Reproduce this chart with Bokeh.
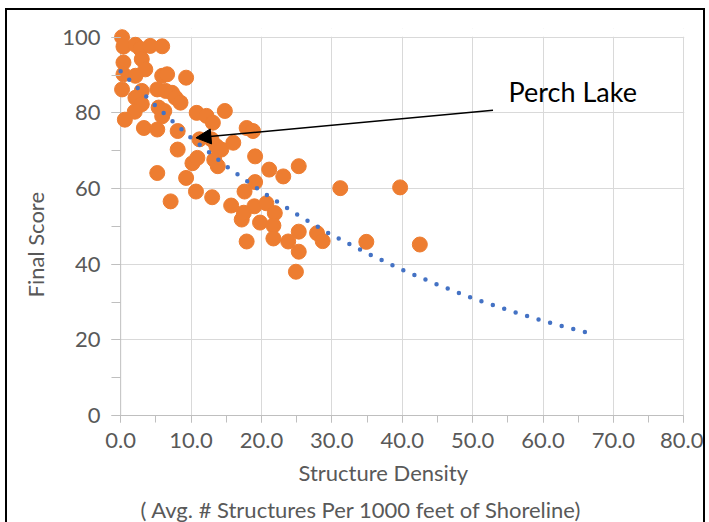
from bokeh.plotting import figure
from bokeh.models import (Range1d, SingleIntervalTicker, NumeralTickFormatter, Arrow, NormalHead,
                          Label, Title, BoxAnnotation, Span)
from bokeh.embed import file_html
from bokeh.resources import INLINE

# Structure density (avg # structures per 1000 ft of shoreline) vs final score
density = [0.2, 0.4, 2.1, 2.8, 4.2, 5.9, 0.4, 3.0, 3.5, 0.4, 2.1, 5.9, 6.6, 9.3,
           0.2, 3.0, 5.2, 6.4, 7.3, 7.8, 2.1, 3.0, 8.5, 2.0, 0.6, 5.4, 6.2, 3.3,
           5.2, 5.9, 8.1, 8.1, 5.2, 9.3, 10.7, 7.1, 10.2, 10.9, 11.2, 10.8, 12.2,
           14.8, 13.1, 12.9, 13.6, 14.3, 16.0, 17.9, 18.8, 19.1, 13.3, 13.8, 21.1,
           23.1, 19.1, 13.0, 15.7, 17.6, 19.0, 17.2, 17.5, 20.7, 21.9, 19.8, 21.7,
           21.7, 17.9, 23.8, 25.3, 25.3, 24.9, 25.3, 27.9, 28.7, 31.2, 34.9, 39.7, 42.5]
score = [100.0, 97.5, 98.0, 96.9, 97.7, 97.6, 93.3, 94.2, 91.5, 90.2, 89.8, 89.8, 90.2, 89.3,
         86.2, 85.8, 86.2, 85.8, 85.3, 84.0, 84.0, 82.3, 82.7, 80.3, 78.2, 81.4, 80.5, 76.0,
         75.6, 79.1, 75.2, 70.3, 64.1, 62.8, 59.2, 56.6, 66.7, 68.1, 73.0, 80.0, 79.2,
         80.5, 77.4, 73.0, 71.2, 70.3, 72.1, 76.0, 75.2, 68.5, 67.6, 65.9, 65.0,
         63.2, 61.7, 57.7, 55.5, 59.2, 55.3, 51.8, 53.6, 56.1, 53.5, 51.0, 50.2,
         46.8, 46.0, 46.0, 48.6, 43.3, 38.0, 65.9, 48.2, 46.1, 60.1, 45.9, 60.3, 45.2]

# Exponential trendline
trend_x = [0, 5, 10, 15, 20, 25, 30, 35, 40, 45, 50, 55, 60, 65, 66.5]
trend_y = [91.0, 81.8, 73.4, 65.9, 59.2, 53.2, 47.7, 42.9, 38.5, 34.6, 31.0, 27.9, 25.0, 22.5, 21.8]

x_title = "Structure Density"
x_subtitle = "( Avg. # Structures Per 1000 feet of Shoreline)"
y_title = "Final Score"
note_text = "Perch Lake"
note_pos = (55.1, 85.7)
arrow_from = (52.9, 80.7)
arrow_to = (10.7, 73.4)
x_min, x_max = 0, 80
y_min, y_max = 0, 100

FONT = "Lato"
GREY_TXT = "#595959"
AXIS_GREY = "#BFBFBF"
GRID_GREY = "#D9D9D9"

# a little room left of 0 and above 100 so markers on the edge are not clipped
p = figure(width=700, height=514, x_range=Range1d(x_min - 1.3, x_max + 0.1),
           y_range=Range1d(y_min, y_max + 2.3),
           output_backend="svg", toolbar_location=None,
           min_border_left=104, min_border_right=23, min_border_top=18, min_border_bottom=109)
p.outline_line_color = None
p.background_fill_color = "white"
p.border_fill_color = "white"
p.styles = {"margin-left": "5px", "margin-top": "8px",
            "border-left": "2px solid black", "border-top": "2px solid black",
            "border-right": "2px solid black"}

p.xaxis.ticker = SingleIntervalTicker(interval=10, num_minor_ticks=2)
p.yaxis.ticker = SingleIntervalTicker(interval=20, num_minor_ticks=2)
p.xaxis.formatter = NumeralTickFormatter(format="0.0")
for ax in (p.xaxis[0], p.yaxis[0]):
    ax.axis_line_color = AXIS_GREY
    ax.major_tick_line_color = AXIS_GREY
    ax.minor_tick_line_color = AXIS_GREY
    ax.major_label_text_font = FONT
    ax.major_label_text_font_size = "22px"
    ax.major_label_text_color = GREY_TXT
p.xaxis.major_tick_out = 7
p.xaxis.minor_tick_out = 7
p.xaxis.major_tick_in = 0
p.xaxis.minor_tick_in = 0
p.xaxis.major_label_standoff = 10
p.xaxis.bounds = (x_min - 1.0, x_max)
# y axis sits at the frame edge; its ticks reach in to the 0 line
p.yaxis.axis_line_color = None
p.yaxis.major_tick_out = 0
p.yaxis.minor_tick_out = 0
p.yaxis.major_tick_in = 9
p.yaxis.minor_tick_in = 9
p.yaxis.major_label_standoff = 11
p.xgrid.grid_line_color = GRID_GREY
p.ygrid.grid_line_color = GRID_GREY

# the vertical axis line at x = 0
p.add_layout(Span(location=x_min, dimension="height", line_color=AXIS_GREY, line_width=1,
                  level="underlay"))
# white masks so grid lines stop at the 0 / 100 edges like the original
for kw in (dict(bottom=y_max + 0.15), dict(right=x_min - 0.08)):
    p.add_layout(BoxAnnotation(fill_color="white", fill_alpha=1.0, line_color=None,
                               level="underlay", **kw))

p.scatter(density, score, size=15, fill_color="#ED7D31", line_color="#ED7D31")
p.line(trend_x, trend_y, line_color="#4472C4", line_width=4.5, line_dash="0 12", line_cap="round")

p.add_layout(Arrow(end=NormalHead(size=15, fill_color="black", line_color="black"),
                   x_start=arrow_from[0], y_start=arrow_from[1],
                   x_end=arrow_to[0], y_end=arrow_to[1],
                   line_color="black", line_width=1.5))
p.add_layout(Label(x=note_pos[0], y=note_pos[1], text=note_text, text_font=FONT,
                   text_font_size="27px", text_baseline="middle", text_align="left",
                   text_color="black"))

# axis titles as panel titles so that they can be offset like the reference
p.add_layout(Title(text=x_title, align="left", offset=187, standoff=13, text_font=FONT,
                   text_font_size="22px", text_font_style="normal", text_color=GREY_TXT), "below")
p.add_layout(Title(text=x_subtitle, align="left", offset=29, standoff=2, text_font=FONT,
                   text_font_size="22px", text_font_style="normal", text_color=GREY_TXT), "below")
p.add_layout(Title(text=y_title, align="left", offset=118, standoff=22, text_font=FONT,
                   text_font_size="22px", text_font_style="normal", text_color=GREY_TXT), "left")

open("out.html", "w").write(file_html(p, INLINE))
